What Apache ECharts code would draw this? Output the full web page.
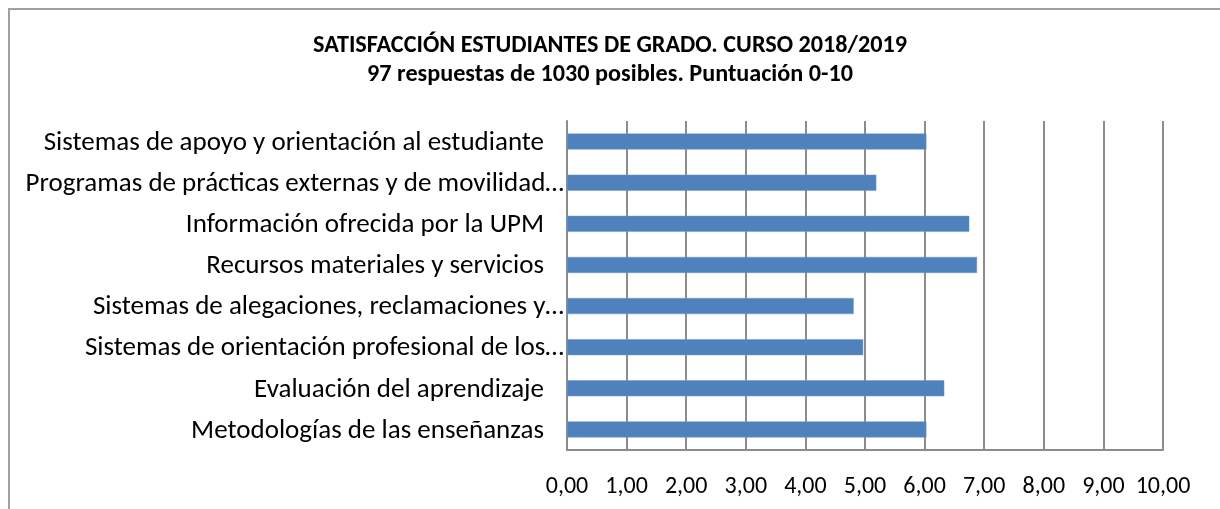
<!DOCTYPE html>
<html>
<head>
<meta charset="utf-8">
<script src="https://cdn.jsdelivr.net/npm/echarts@6/dist/echarts.min.js"></script>
<style>
html,body{margin:0;padding:0;background:#fff;}
#frame{position:absolute;left:8px;top:8px;width:1300px;height:600px;border-top:2px solid #a0a0a0;border-left:2px solid #a0a0a0;box-sizing:border-box;}
#chart{position:absolute;left:0;top:0;width:1220px;height:509px;}
</style>
</head>
<body>
<div id="frame"></div>
<div id="chart"></div>
<script>
var titleLine1 = 'SATISFACCIÓN ESTUDIANTES DE GRADO. CURSO 2018/2019';
var titleLine2 = '97 respuestas de 1030 posibles. Puntuación 0-10';
var categories = [
  'Metodologías de las enseñanzas',
  'Evaluación del aprendizaje',
  'Sistemas de orientación profesional de los…',
  'Sistemas de alegaciones, reclamaciones y…',
  'Recursos materiales y servicios',
  'Información ofrecida por la UPM',
  'Programas de prácticas externas y de movilidad…',
  'Sistemas de apoyo y orientación al estudiante'
];
var values = [6.03, 6.33, 4.97, 4.81, 6.88, 6.75, 5.19, 6.03];
var axisMin = 0, axisMax = 10, axisStep = 1;

var FONT = 'Carlito, Calibri, Lato, sans-serif';
var chart = echarts.init(document.getElementById('chart'));
chart.setOption({
  animation: false,
  backgroundColor: 'transparent',
  title: {
    text: titleLine1 + '\n' + titleLine2,
    left: 'center',
    top: 26,
    textStyle: {fontFamily: FONT, fontWeight: 'bold', fontSize: 24.2, color: '#000', lineHeight: 29}
  },
  grid: {left: 567, right: 57, top: 121, bottom: 59, containLabel: false},
  xAxis: {
    type: 'value', min: axisMin, max: axisMax, interval: axisStep,
    axisLine: {show: true, lineStyle: {color: '#8c8c8c', width: 2}},
    axisTick: {show: false},
    splitLine: {show: true, lineStyle: {color: '#8c8c8c', width: 2}},
    axisLabel: {
      margin: 25, fontFamily: FONT, fontSize: 24, color: '#000',
      formatter: function (v) { return v.toFixed(2).replace('.', ','); }
    }
  },
  yAxis: {
    type: 'category', data: categories,
    axisLine: {show: true, lineStyle: {color: '#8c8c8c', width: 2}},
    axisTick: {show: false},
    axisLabel: {
      margin: 3, fontFamily: FONT, fontSize: 27, color: '#000',
      formatter: function (v) {
        return v.charAt(v.length - 1) === '…' ? '{t|' + v + '}' : '{f|' + v + '}';
      },
      rich: {
        t: {fontFamily: FONT, fontSize: 27, color: '#000', padding: [3, 0, 0, 0]},
        f: {fontFamily: FONT, fontSize: 27, color: '#000', padding: [3, 20, 0, 0]}
      }
    }
  },
  series: [{
    type: 'bar', data: values, barWidth: 16,
    itemStyle: {color: '#4f81bd', borderColor: '#6f97cb', borderWidth: 0.5}
  }]
});
</script>
</body>
</html>
